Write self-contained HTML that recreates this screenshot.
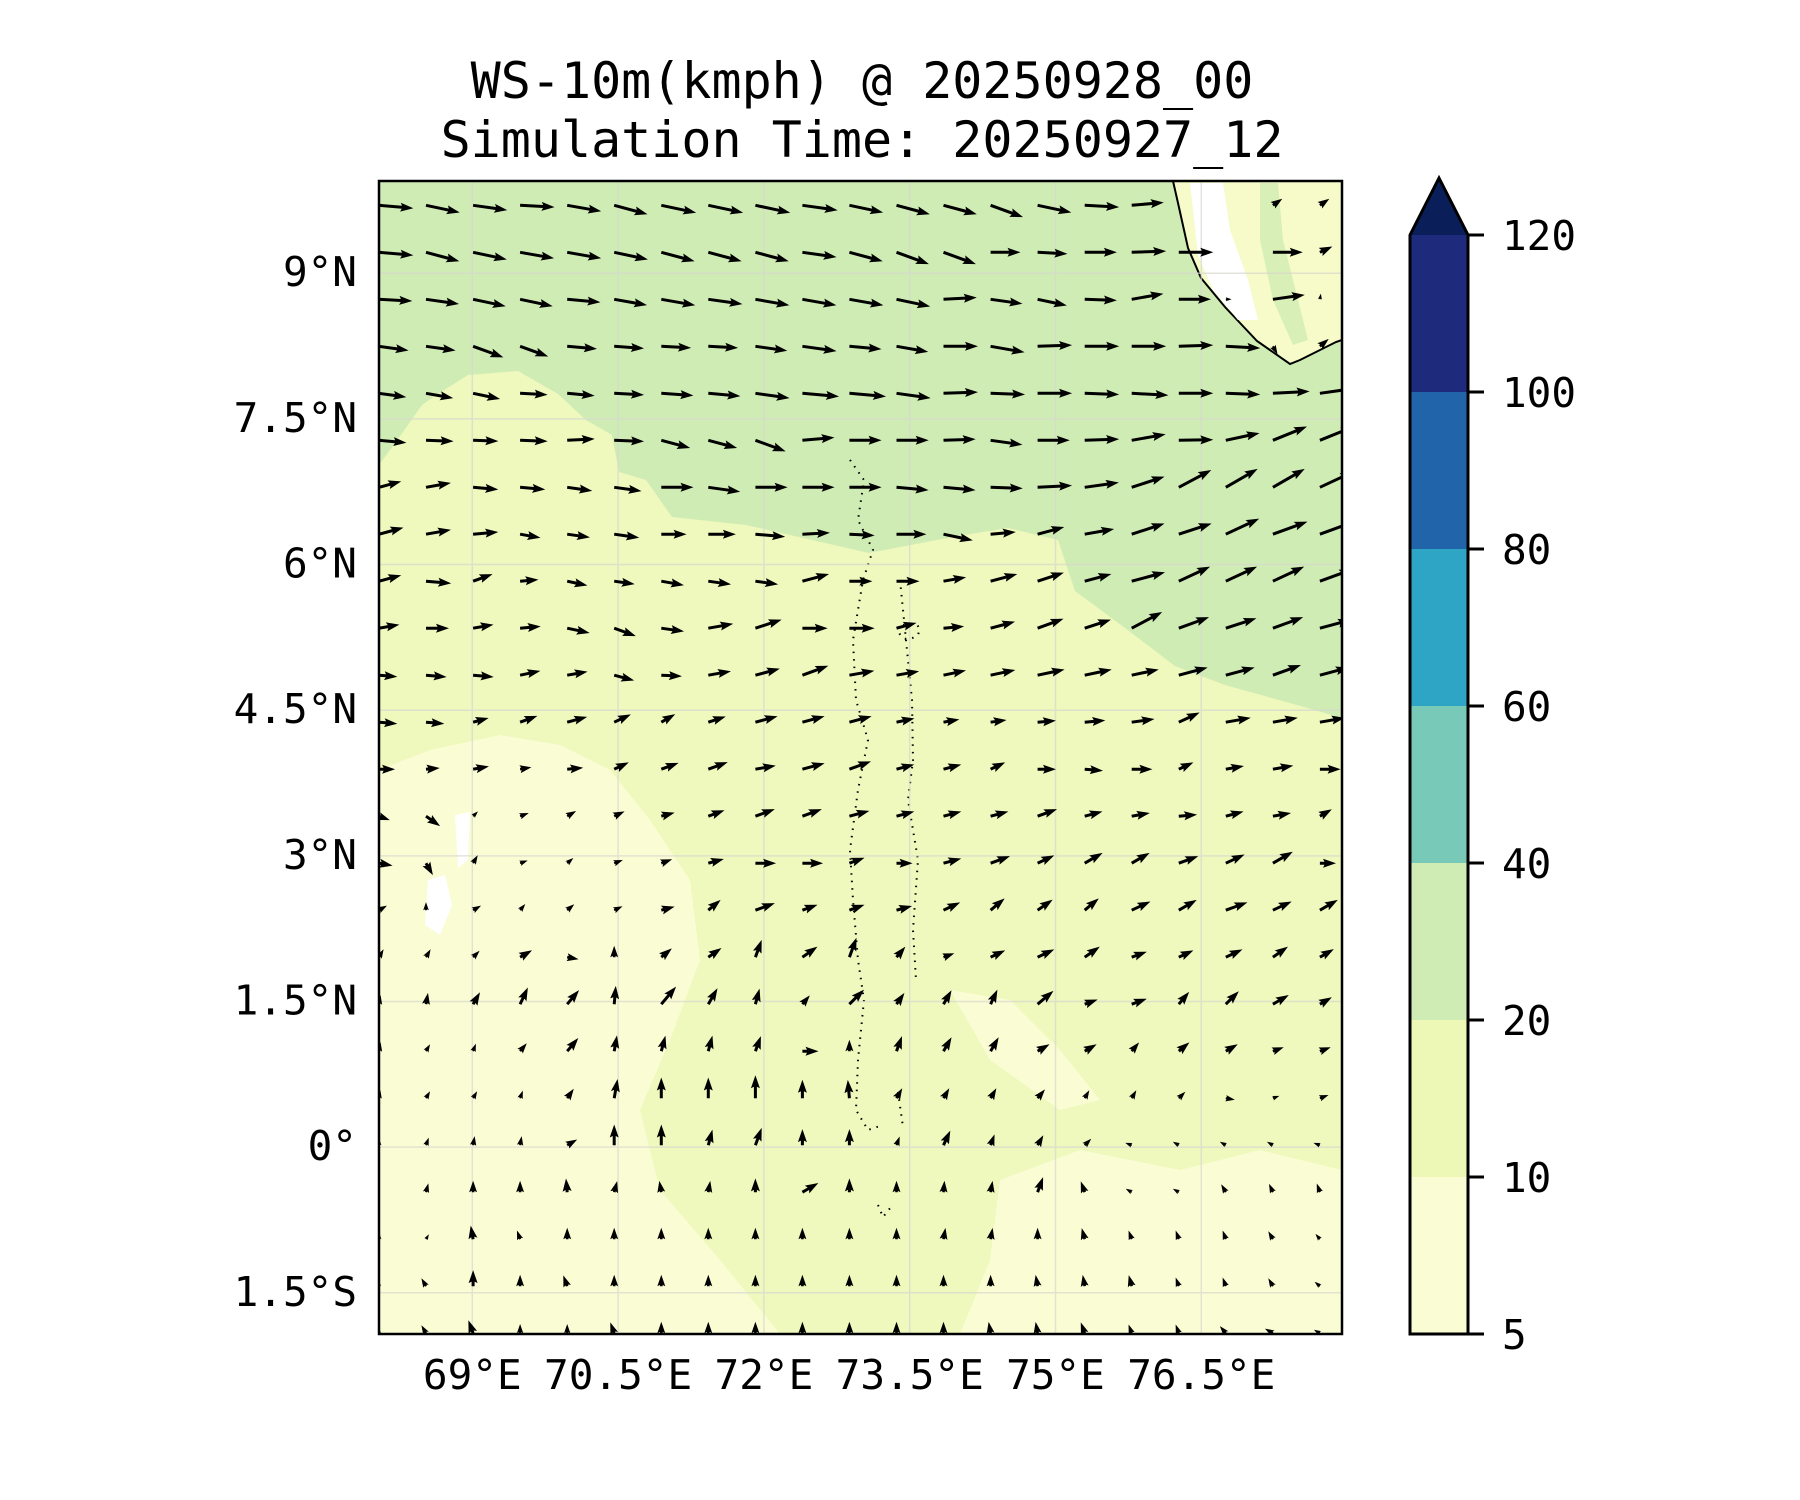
<!DOCTYPE html>
<html><head><meta charset="utf-8">
<style>
html,body{margin:0;padding:0;background:#fff;}
svg{display:block;}
text{font-family:"DejaVu Sans Mono","Liberation Mono",monospace;fill:#000;}
</style></head>
<body>
<svg id="chart" width="1800" height="1500" viewBox="0 0 1800 1500" xmlns="http://www.w3.org/2000/svg">
  <text x="862" y="98" font-size="50" text-anchor="middle">WS-10m(kmph) @ 20250928_00</text>
  <text x="862" y="157" font-size="50" text-anchor="middle">Simulation Time: 20250927_12</text>
  <defs><clipPath id="plotclip"><rect x="379" y="181" width="963" height="1153"/></clipPath></defs>
  <g id="map" clip-path="url(#plotclip)">
    <rect x="379" y="181" width="963" height="1153" fill="#eff8bd"/>
    <path fill="#fafdd4" d="M379,770 L430,750 L500,735 L560,745 L610,770 L650,820 L690,880 L700,960 L670,1040 L640,1110 L660,1190 L720,1260 L780,1334 L379,1334 Z"/>
    <path fill="#fafdd4" d="M1000,1180 L1080,1150 L1180,1170 L1260,1150 L1342,1170 L1342,1334 L960,1334 L990,1260 Z"/>
    <path fill="#fafdd4" d="M950,990 L1010,1000 L1060,1050 L1100,1100 L1060,1110 L990,1060 Z"/>
    <path fill="#ffffff" d="M455,815 L470,812 L468,860 L458,868 Z M428,880 L445,875 L452,905 L440,935 L425,925 Z"/>
    <path fill="#d0ecb5" d="M379,181 L1342,181 L1342,718 L1290,703 L1225,685 L1175,666 L1125,628 L1075,591 L1058,540 L1008,528 L958,536 L869,553 L812,540 L746,525 L672,517 L646,480 L619,472 L612,435 L586,420 L558,394 L518,371 L468,375 L438,394 L422,405 L398,439 L379,465 Z"/>
    <path fill="#f6fbc9" stroke="#000" stroke-width="2" d="M1173,181 L1178,203 L1188,248 L1201,278 L1225,307 L1257,341 L1290,364 L1300,360 L1336,342 L1342,340 L1342,181 Z"/>
    <path fill="#ffffff" d="M1190,183 L1223,183 L1230,230 L1248,280 L1258,320 L1238,320 L1213,290 L1198,255 Z"/>
    <path fill="#d8efb8" d="M1260,183 L1278,183 L1283,240 L1298,300 L1308,340 L1293,345 L1273,300 L1260,240 Z"/>
    <path fill="none" stroke="#000" stroke-width="2" stroke-dasharray="1.5,6" d="M850,460 L864,480 L858,520 L873,550 L863,580 L853,640 L856,700 L868,740 L858,790 L850,850 L853,900 L858,960 L864,1000 L858,1060 L856,1110 L868,1130 L883,1125 M900,580 L906,640 L912,700 L913,760 L908,800 L918,860 L913,930 L916,980 M898,1092 L903,1127 M878,1205 L883,1217 L891,1207 M903,625 Q923,620 918,635 Q903,645 898,630"/>
    <g id="gridlines" stroke="#d8d8d0" stroke-width="1.5" opacity="0.7"></g>
    <g id="arrows" fill="#000"></g>
  </g>
  <rect x="379" y="181" width="963" height="1153" fill="none" stroke="#000" stroke-width="2.5"/>
  <g id="xticks"></g>
  <g id="yticks"></g>
  <g id="colorbar"></g>
</svg>
<script>
// ---- data ----
const lonTicks = [69, 70.5, 72, 73.5, 75, 76.5];
const lonLabels = ["69°E", "70.5°E", "72°E", "73.5°E", "75°E", "76.5°E"];
const latTicks = [9, 7.5, 6, 4.5, 3, 1.5, 0, -1.5];
const latLabels = ["9°N", "7.5°N", "6°N", "4.5°N", "3°N", "1.5°N", "0°", "1.5°S"];
const cbLevels = [5, 10, 20, 40, 60, 80, 100, 120];
const cbColors = ["#fafdd3", "#edf8b6", "#cfecb4", "#79c9b9", "#2ea5c5", "#2264aa", "#1e2b7d"];
const cbExtendColor = "#0a1f59";
const gridLon0 = 68.04, gridLat0 = 9.70, gridStep = 0.484;
// wind direction (deg, 0=east, 90=north) per row, north to south
const dir0 = [-5,-12,-8,-3,-10,-15,-12,-12,-12,-8,-12,-15,-15,-20,-12,-3,5,0,0,35,35];
const dir1 = [-5,-15,-12,-10,-10,-12,-15,-15,-15,-8,-15,-20,-20,0,-3,0,2,0,0,0,25];
const dir2 = [-3,-8,-12,-12,-5,-10,-10,-8,-10,-10,-10,-12,3,-8,-12,-2,10,0,0,8,80];
const dir3 = [-8,-8,-20,-20,-5,-4,-3,-3,-8,-8,-5,-10,0,-10,2,0,0,2,-3,-60,40];
const dir4 = [-8,-10,-12,-3,-5,-3,-4,-5,-8,-5,-5,-8,2,-2,0,-2,-3,0,-2,3,8];
const dir5 = [-5,-2,-2,-2,3,-2,-15,-15,-20,5,0,0,2,-8,0,2,10,1,12,22,22];
const dir6 = [15,10,-5,-5,-8,-8,0,-8,0,0,0,-5,-5,-2,3,8,18,28,30,30,25];
const dir7 = [15,10,5,-10,-8,-8,0,0,-5,3,-3,0,-12,5,15,10,18,18,25,20,20];
const dir8 = [15,-5,20,5,-12,-8,-10,-8,-8,15,0,0,10,15,18,15,15,25,25,25,20];
const dir9 = [10,0,10,5,-12,-20,-8,10,18,0,0,15,5,15,20,18,28,20,18,20,15];
const dir10 = [-5,-5,-5,12,10,-15,-3,10,15,20,10,10,12,12,12,12,12,15,15,20,15];
const dir11 = [-5,-5,15,20,15,25,30,18,15,15,15,12,10,8,5,5,8,25,10,10,10];
const dir12 = [0,5,10,10,5,25,20,20,10,15,20,15,15,25,0,-5,0,25,10,10,0];
const dir13 = [-20,-35,45,20,30,25,15,20,20,20,15,15,15,15,20,15,10,5,15,10,30];
const dir14 = [-10,-60,60,20,40,20,20,15,0,0,20,0,15,20,25,30,30,20,25,30,0];
const dir15 = [30,90,30,50,40,25,15,40,20,20,20,15,25,40,35,40,25,30,20,25,30];
const dir16 = [60,60,45,30,-10,90,40,35,70,35,70,50,20,25,25,35,20,25,25,35,30];
const dir17 = [80,80,60,65,50,85,50,60,75,50,45,55,60,65,40,20,20,50,45,30,30];
const dir18 = [80,60,70,50,50,80,75,75,70,0,90,70,60,60,30,30,50,40,30,20,20];
const dir19 = [80,60,60,70,55,80,90,90,90,90,95,60,60,60,50,60,60,45,-10,20,20];
const dir20 = [90,70,80,80,30,90,90,75,70,90,90,70,65,70,60,45,160,150,150,150,160];
const dir21 = [90,75,90,90,95,75,100,80,90,30,90,90,85,80,70,110,150,150,120,115,110];
const dir22 = [90,60,100,110,90,90,90,90,90,90,90,90,80,80,90,105,110,110,110,120,130];
const dir23 = [90,120,90,90,110,90,90,90,90,90,90,90,90,90,100,100,105,110,110,120,140];
const dir24 = [90,120,110,90,90,110,90,90,90,90,90,90,90,100,100,110,110,110,130,150,150];
// wind speed (km/h) per row
const spd0 = [30,30,30,30,30,30,31,31,31,31,30,30,30,30,30,30,28,0,0,10,10];
const spd1 = [30,30,30,30,30,30,30,30,30,30,30,30,30,26,26,28,30,30,0,26,12];
const spd2 = [29,29,29,29,29,29,30,30,30,30,30,30,29,28,26,28,28,28,5,28,5];
const spd3 = [26,26,28,26,26,26,26,26,28,30,28,28,30,30,30,30,30,30,30,8,10];
const spd4 = [24,24,24,24,24,26,28,28,30,32,32,30,30,30,30,30,32,30,30,32,32];
const spd5 = [24,24,22,24,24,26,26,26,28,28,28,28,28,28,28,30,30,30,30,32,32];
const spd6 = [20,22,22,22,22,24,28,28,28,28,28,28,28,28,30,30,30,32,32,32,32];
const spd7 = [22,22,22,18,20,22,22,24,26,24,22,26,26,22,24,26,30,30,32,32,32];
const spd8 = [20,22,18,16,18,18,20,20,20,24,20,20,20,24,24,24,30,30,30,30,30];
const spd9 = [18,20,18,18,20,20,20,22,24,22,22,18,18,22,24,24,30,28,28,28,28];
const spd10 = [16,18,18,18,18,18,18,20,22,24,22,20,20,22,24,24,24,26,26,26,26];
const spd11 = [16,16,14,16,18,16,14,16,20,20,20,16,14,14,16,18,20,20,22,22,22];
const spd12 = [14,12,14,10,14,14,16,18,18,20,20,16,16,14,16,16,18,14,16,18,18];
const spd13 = [10,15,6,8,9,10,12,15,18,18,18,16,16,16,18,16,16,16,16,16,12];
const spd14 = [12,12,8,7,7,8,10,14,18,18,14,14,16,18,16,18,18,18,18,20,14];
const spd15 = [8,7,8,7,8,8,12,14,18,14,14,14,16,16,16,16,18,18,20,18,18];
const spd16 = [8,8,8,12,10,10,12,14,16,16,18,12,10,14,16,16,14,14,16,16,14];
const spd17 = [8,10,12,16,16,16,20,16,14,10,18,12,14,14,18,12,14,14,16,16,12];
const spd18 = [8,7,7,9,15,14,14,14,14,14,10,14,14,14,12,12,10,12,12,10,10];
const spd19 = [7,7,7,7,10,17,18,18,20,16,16,10,10,10,10,8,8,8,8,6,8];
const spd20 = [6,7,8,8,10,18,18,14,16,14,14,8,14,10,10,8,6,6,6,6,6];
const spd21 = [0,8,10,10,12,10,10,10,12,16,12,10,10,10,14,10,6,6,8,8,8];
const spd22 = [6,5,12,8,10,10,10,10,10,10,10,10,10,10,10,10,8,8,8,8,6];
const spd23 = [5,8,14,10,10,10,10,10,10,10,10,10,10,10,10,10,10,8,8,8,6];
const spd24 = [5,8,12,8,8,10,10,10,10,10,10,10,10,10,10,10,8,8,8,8,6];

const dirRows = [dir0,dir1,dir2,dir3,dir4,dir5,dir6,dir7,dir8,dir9,dir10,dir11,dir12,dir13,dir14,dir15,dir16,dir17,dir18,dir19,dir20,dir21,dir22,dir23,dir24];
const spdRows = [spd0,spd1,spd2,spd3,spd4,spd5,spd6,spd7,spd8,spd9,spd10,spd11,spd12,spd13,spd14,spd15,spd16,spd17,spd18,spd19,spd20,spd21,spd22,spd23,spd24];

// ---- axes ----
const NS = "http://www.w3.org/2000/svg";
function xScale(lon){ return 379 + (lon - 68.04) * 97.2; }
function yScale(lat){ return 181 + (9.95 - lat) * 97.1; }
const cbTop = 235, cbBot = 1334, cbX = 1410, cbW = 58;
function cbScale(i){ return cbBot - i * (cbBot - cbTop) / (cbLevels.length - 1); }
function mk(tag, attrs, parent){ const e = document.createElementNS(NS, tag); for (const k in attrs) e.setAttribute(k, attrs[k]); parent.appendChild(e); return e; }

const grid = document.getElementById('gridlines');
lonTicks.forEach(function(lon){
  const l = mk('line', {x1: xScale(lon), x2: xScale(lon), y1: 181, y2: 1334}, grid);
  
  
});
latTicks.forEach(function(lat){
  const l = mk('line', {x1: 379, x2: 1342, y1: yScale(lat), y2: yScale(lat)}, grid);
  
  
});

const xt = document.getElementById('xticks');
lonTicks.forEach(function(lon, i){
  const t = mk('text', {x: xScale(lon), y: 1389, 'font-size': 41, 'text-anchor': 'middle'}, xt);
  t.textContent = lonLabels[i];
  
  
});
const yt = document.getElementById('yticks');
latTicks.forEach(function(lat, i){
  const t = mk('text', {x: 357, y: yScale(lat) + 13, 'font-size': 41, 'text-anchor': 'end'}, yt);
  t.textContent = latLabels[i];
  
  
});

// ---- arrows ----
const ag = document.getElementById('arrows');
const pxPerKmh = 1.15, sw = 3, hl = 13, hal = 11.5, hw = 9;
for (let j = 0; j < dirRows.length; j++) {
  for (let i = 0; i < dirRows[j].length; i++) {
    const s = spdRows[j][i];
    if (s <= 0) continue;
    const L = s * pxPerKmh;
    let pts;
    if (L >= hl) {
      pts = [[0,-sw/2],[L-hal,-sw/2],[L-hl,-hw/2],[L,0],[L-hl,hw/2],[L-hal,sw/2],[0,sw/2]];
    } else {
      const f = L / hl;
      pts = [[0,-sw/2*f],[L-hal*f,-sw/2*f],[0,-hw/2*f],[L,0],[0,hw/2*f],[L-hal*f,sw/2*f],[0,sw/2*f]];
    }
    const y0 = yScale(gridLat0 - j * gridStep);
    const xx = xScale(gridLon0 + i * gridStep);
    const a = -dirRows[j][i];
    const p = mk('polygon', {points: pts.map(function(q){ return q[0].toFixed(2) + ',' + q[1].toFixed(2); }).join(' '),
      transform: 'translate(' + xx.toFixed(1) + ',' + y0.toFixed(1) + ') rotate(' + a + ')'}, ag);
    
    
  }
}

// ---- colorbar ----
const cb = document.getElementById('colorbar');
for (let k = 0; k < cbColors.length; k++) {
  const yA = cbScale(k + 1), yB = cbScale(k);
  const r = mk('rect', {x: cbX, y: yA, width: cbW, height: yB - yA, fill: cbColors[k]}, cb);
  
  
}
const tri = mk('polygon', {points: cbX + ',' + cbTop + ' ' + (cbX + cbW/2) + ',178 ' + (cbX + cbW) + ',' + cbTop, fill: cbExtendColor}, cb);


const outline = mk('path', {d: 'M' + cbX + ',' + cbBot + ' L' + cbX + ',' + cbTop + ' L' + (cbX + cbW/2) + ',178 L' + (cbX + cbW) + ',' + cbTop + ' L' + (cbX + cbW) + ',' + cbBot + ' Z', fill: 'none', stroke: '#000', 'stroke-width': 3}, cb);


cbLevels.forEach(function(v, k){
  const y = cbScale(k);
  const tk = mk('line', {x1: cbX + cbW, x2: cbX + cbW + 16, y1: y, y2: y, stroke: '#000', 'stroke-width': 3}, cb);
  
  
  const t = mk('text', {x: 1502, y: y + 15, 'font-size': 41}, cb);
  t.textContent = String(v);
  
  
});
</script>
</body></html>
